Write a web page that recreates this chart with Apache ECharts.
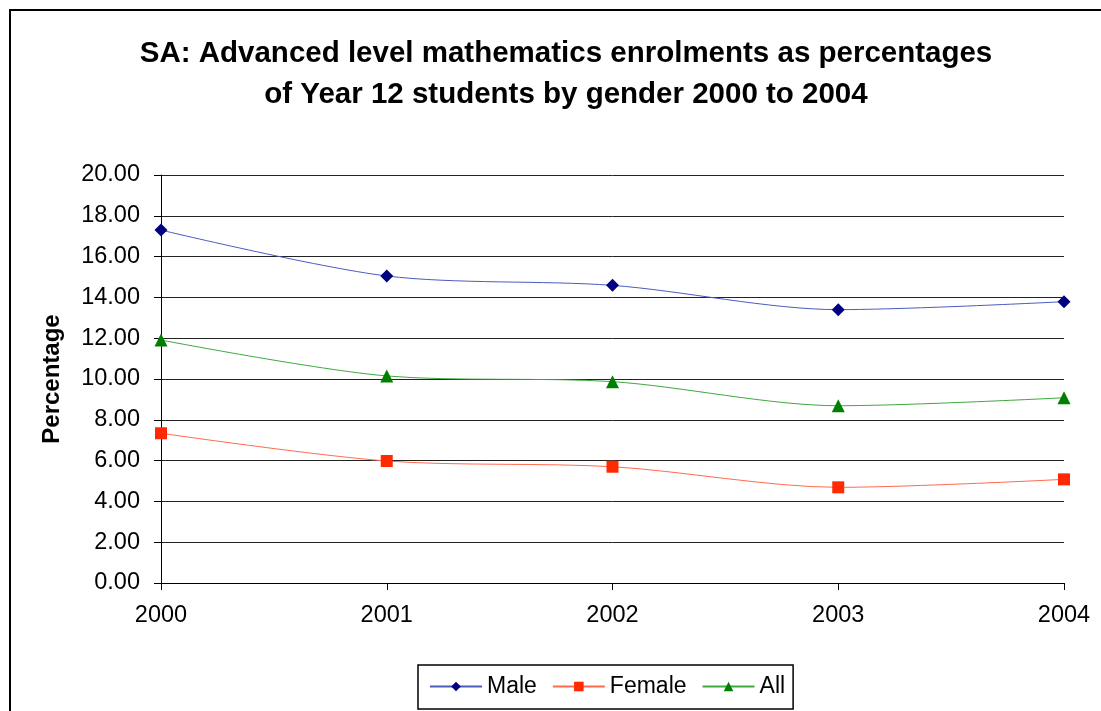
<!DOCTYPE html>
<html>
<head>
<meta charset="utf-8">
<script src="https://cdn.jsdelivr.net/npm/echarts@6/dist/echarts.min.js"></script>
<style>
  html, body { margin: 0; padding: 0; background: #fff; }
  #chart { width: 1101px; height: 711px; }
</style>
</head>
<body>
<div id="chart"></div>
<script>
// Years on the horizontal axis
const years = ['2000', '2001', '2002', '2003', '2004'];
// Enrolments as a percentage of Year 12 students
const male = [17.30, 15.05, 14.59, 13.40, 13.79];
const female = [7.34, 5.98, 5.70, 4.69, 5.08];
const all = [11.91, 10.15, 9.87, 8.69, 9.08];

const FONT = '"Liberation Sans", Arial, sans-serif';

const chart = echarts.init(document.getElementById('chart'));

function lineSeries(name, data, symbol, markerColor, lineColor, size) {
  return {
    name: name,
    type: 'line',
    data: data,
    smooth: 0.3,
    symbol: symbol,
    symbolSize: size,
    showAllSymbol: true,
    itemStyle: { color: markerColor },
    lineStyle: { color: lineColor, width: 1 },
    emphasis: { disabled: true },
    z: 3
  };
}

chart.setOption({
  animation: false,
  backgroundColor: '#fff',
  title: {
    text: 'SA: Advanced level mathematics enrolments as percentages\nof Year 12 students by gender 2000 to 2004',
    left: 561,
    textAlign: 'center',
    top: 28,
    textStyle: {
      fontFamily: FONT,
      fontWeight: 'bold',
      fontSize: 29.5,
      lineHeight: 41,
      color: '#000'
    }
  },
  legend: {
    data: ['Male', 'Female', 'All'],
    left: 418,
    top: 665,
    padding: [10, 8, 11, 11],
    itemGap: 15,
    itemWidth: 52,
    itemHeight: 12,
    borderColor: '#000',
    borderWidth: 1.5,
    borderRadius: 0,
    textStyle: { fontFamily: FONT, fontSize: 23, color: '#000' }
  },
  grid: {
    left: 161,
    right: 1101 - 1064,
    top: 175,
    bottom: 711 - 583,
    containLabel: false
  },
  xAxis: {
    type: 'category',
    data: years,
    boundaryGap: false,
    axisLine: { lineStyle: { color: '#000', width: 1 } },
    axisTick: { show: true, inside: false, length: 7, lineStyle: { color: '#000' } },
    axisLabel: { fontFamily: FONT, fontSize: 23.5, color: '#000', margin: 21 },
    splitLine: { show: false }
  },
  yAxis: {
    type: 'value',
    min: 0,
    max: 20,
    interval: 2,
    name: 'Percentage',
    nameLocation: 'middle',
    nameGap: 97,
    nameRotate: 90,
    nameTextStyle: { fontFamily: FONT, fontWeight: 'bold', fontSize: 24, color: '#000' },
    axisLine: { show: true, lineStyle: { color: '#000', width: 1 } },
    axisTick: { show: true, inside: false, length: 7, lineStyle: { color: '#000' } },
    axisLabel: {
      fontFamily: FONT, fontSize: 23.5, color: '#000', margin: 21,
      formatter: v => v.toFixed(2)
    },
    splitLine: { show: true, lineStyle: { color: '#222', width: 1 } }
  },
  series: [
    lineSeries('Male', male, 'diamond', '#000080', '#4b5cc0', 13),
    lineSeries('Female', female, 'rect', '#ff2a00', '#ff6a50', 12),
    lineSeries('All', all, 'triangle', '#008000', '#40a840', 13)
  ],
  graphic: [
    {
      type: 'polyline',
      shape: { points: [[10, 711], [10, 10], [1101, 10]] },
      style: { stroke: '#000', lineWidth: 2, fill: null },
      silent: true
    }
  ]
});
</script>
</body>
</html>
